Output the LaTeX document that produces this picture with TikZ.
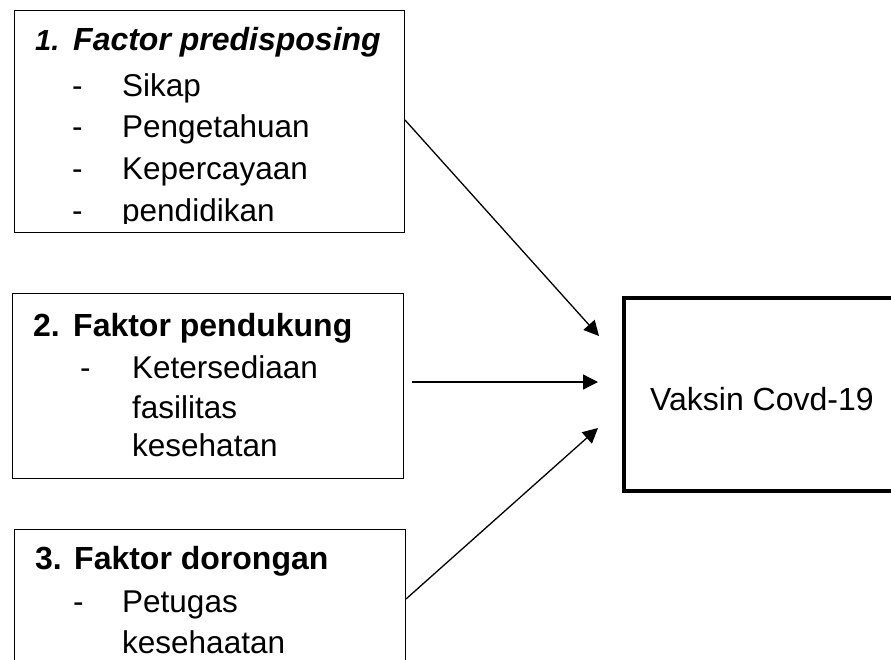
\documentclass[tikz,border=0pt]{standalone}
\usepackage{fontspec}
\setmainfont{Liberation Sans}
\usetikzlibrary{arrows.meta}
\begin{document}
\begin{tikzpicture}[x=1pt,y=-1pt,
  boxthin/.style={draw=black,line width=1pt,inner sep=0pt,anchor=north west},
  boxthick/.style={draw=black,line width=4pt,inner sep=0pt,anchor=north west},
  txt/.style={anchor=base west,inner sep=0pt,font=\fontsize{31.5}{36}\selectfont},
  head/.style={txt,font=\fontsize{32}{36}\selectfont\bfseries},
  conn/.style={line width=1.3pt,-{Triangle[length=15pt,width=15pt]}}]
\useasboundingbox (0,0) rectangle (891,659);
% boxes
\node[boxthin,minimum width=390pt,minimum height=222pt] (b1) at (14,10) {};
\node[boxthin,minimum width=391pt,minimum height=185pt] (b2) at (12,293) {};
\node[boxthin,minimum width=391pt,minimum height=160pt] (b3) at (14,529) {};
\node[boxthick,minimum width=300pt,minimum height=193pt] (v) at (622,296) {};
% box 1 text
\begin{scope}
\clip (14,10) rectangle (404,223);
\node[txt,font=\fontsize{29}{36}\selectfont\bfseries\itshape] (n1) at (35,50) {1.};
\node[head,font=\fontsize{32}{36}\selectfont\bfseries\itshape] (h1) at (73,50) {Factor predisposing};
\node[txt] (d11) at (72,96) {-};
\node[txt] (t11) at (122,96) {Sikap};
\node[txt] (d12) at (72,137) {-};
\node[txt] (t12) at (122,137) {Pengetahuan};
\node[txt] (d13) at (72,179) {-};
\node[txt] (t13) at (122,179) {Kepercayaan};
\node[txt] (d14) at (72,221) {-};
\node[txt] (t14) at (122,221) {pendidikan};
\end{scope}
% box 2 text
\node[head] (n2) at (33,336) {2.};
\node[head] (h2) at (73,336) {Faktor pendukung};
\node[txt] (d21) at (80,378) {-};
\node[txt] (t21) at (132,378) {Ketersediaan};
\node[txt] (t22) at (132,418) {fasilitas};
\node[txt] (t23) at (132,456) {kesehatan};
% box 3 text
\node[head] (n3) at (35,569) {3.};
\node[head] (h3) at (74,569) {Faktor dorongan};
\node[txt] (d31) at (73,612) {-};
\node[txt] (t31) at (122,612) {Petugas};
\node[txt] (t32) at (122,653) {kesehaatan};
% right box text
\node[txt,font=\fontsize{32}{36}\selectfont] (vt) at (650,410) {Vaksin Covd-19};
% connectors
\coordinate (s1) at (b1.east |- 0,120);
\coordinate (e1) at (599,336);
\coordinate (s2) at (412,382);
\coordinate (e2) at (598,382);
\coordinate (s3) at (b3.east |- 0,599);
\coordinate (e3) at (598,428);
\draw[conn] (s1) -- (e1);
\draw[conn] (s2) -- (e2);
\draw[conn] (s3) -- (e3);
\end{tikzpicture}
\end{document}
